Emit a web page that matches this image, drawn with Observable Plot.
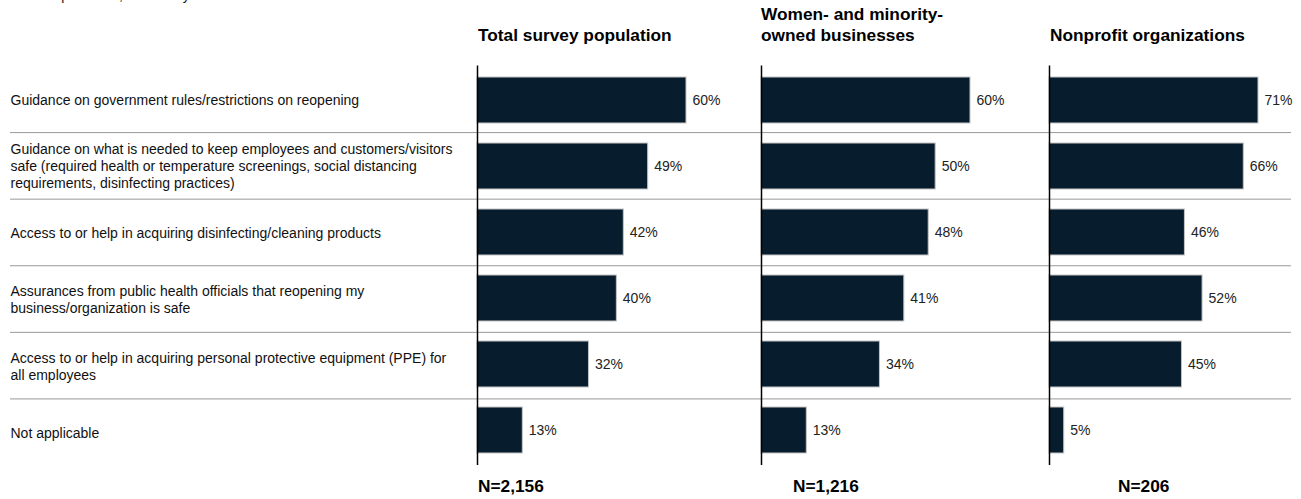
<!DOCTYPE html>
<html><head><meta charset="utf-8">
<script src="https://cdn.jsdelivr.net/npm/d3@7"></script>
<script src="https://cdn.jsdelivr.net/npm/@observablehq/plot@0.6"></script>
<style>
body{margin:0;background:#fff;font-family:"Liberation Sans",Arial,sans-serif;}
#chart{position:relative;width:1301px;height:499px;overflow:hidden;background:#fff;}
.abs{position:absolute;}
.hdr{font-weight:bold;font-size:17.3px;line-height:21px;color:#000;white-space:pre;}
.sub{font-size:14px;line-height:15px;color:#222;white-space:nowrap;}
</style></head><body><div id="chart"></div>
<script>
const subtitle = "% of respondents, select any";
const categories = [
  "Guidance on government rules/restrictions on reopening",
  "Guidance on what is needed to keep employees and customers/visitors\nsafe (required health or temperature screenings, social distancing\nrequirements, disinfecting practices)",
  "Access to or help in acquiring disinfecting/cleaning products",
  "Assurances from public health officials that reopening my\nbusiness/organization is safe",
  "Access to or help in acquiring personal protective equipment (PPE) for\nall employees",
  "Not applicable"
];
const panelTitles = ["Total survey population", "Women- and minority-\nowned businesses", "Nonprofit organizations"];
const panelN = ["N=2,156", "N=1,216", "N=206"];
const totalValues = [60, 49, 42, 40, 32, 13];
const womenMinorityValues = [60, 50, 48, 41, 34, 13];
const nonprofitValues = [71, 66, 46, 52, 45, 5];

const chart = document.getElementById("chart");
const FONT = '"Liberation Sans", Arial, sans-serif';
const H = 499, MT = 65.5, MB = 34;

function place(el, left, top) {
  el.classList.add("abs");
  el.style.left = left + "px";
  el.style.top = top + "px";
  chart.appendChild(el);
  return el;
}

// subtitle (cropped at the top edge in the reference)
const sub = document.createElement("div");
sub.className = "sub";
sub.textContent = subtitle;
place(sub, 10, -12.5);

// background: row labels + separators
const bg = Plot.plot({
  width: 1301, height: H,
  marginTop: MT, marginBottom: MB, marginLeft: 10, marginRight: 10,
  x: {axis: null},
  y: {domain: [0, categories.length], reverse: true, axis: null},
  style: {background: "none", fontFamily: FONT, overflow: "visible"},
  marks: [
    Plot.ruleY(d3.range(1, categories.length), {stroke: "#999", strokeWidth: 1}),
    Plot.text(categories, {
      y: (d, i) => i + 0.5, text: d => d,
      frameAnchor: "left", textAnchor: "start",
      fontSize: 14, lineHeight: 1.22, fill: "#111"
    })
  ]
});
place(bg, 0, 0);

const panelLeft = [477, 761, 1049];
const headerLeft = [478, 761, 1050];
const headerTop = [24.5, 3.5, 24.5];
const nLeft = [478, 793, 1118];
const panelValues = [totalValues, womenMinorityValues, nonprofitValues];

panelValues.forEach((values, k) => {
  const data = categories.map((c, i) => ({c, v: values[i]}));
  const ML = 1, MR = 59, FW = 209;
  const p = Plot.plot({
    width: FW + ML + MR, height: H,
    marginTop: MT, marginBottom: MB, marginLeft: ML, marginRight: MR,
    x: {domain: [0, d3.max(values)], axis: null},
    y: {domain: categories, axis: null, padding: 0},
    style: {background: "none", fontFamily: FONT, overflow: "visible"},
    marks: [
      Plot.barX(data, {x: "v", y: "c", fill: "#071c2c", stroke: "#c4c4c4", strokeWidth: 1, insetTop: 10, insetBottom: 10}),
      Plot.text(data, {x: "v", y: "c", text: d => d.v + "%", textAnchor: "start", dx: 6, fontSize: 14, fill: "#222"}),
      Plot.ruleX([0], {stroke: "#000", strokeWidth: 1.5})
    ]
  });
  place(p, panelLeft[k] - ML, 0);

  const h = document.createElement("div");
  h.className = "hdr";
  h.textContent = panelTitles[k];
  place(h, headerLeft[k], headerTop[k]);

  const n = document.createElement("div");
  n.className = "hdr";
  n.textContent = panelN[k];
  place(n, nLeft[k], 475.5);
});
</script></body></html>
